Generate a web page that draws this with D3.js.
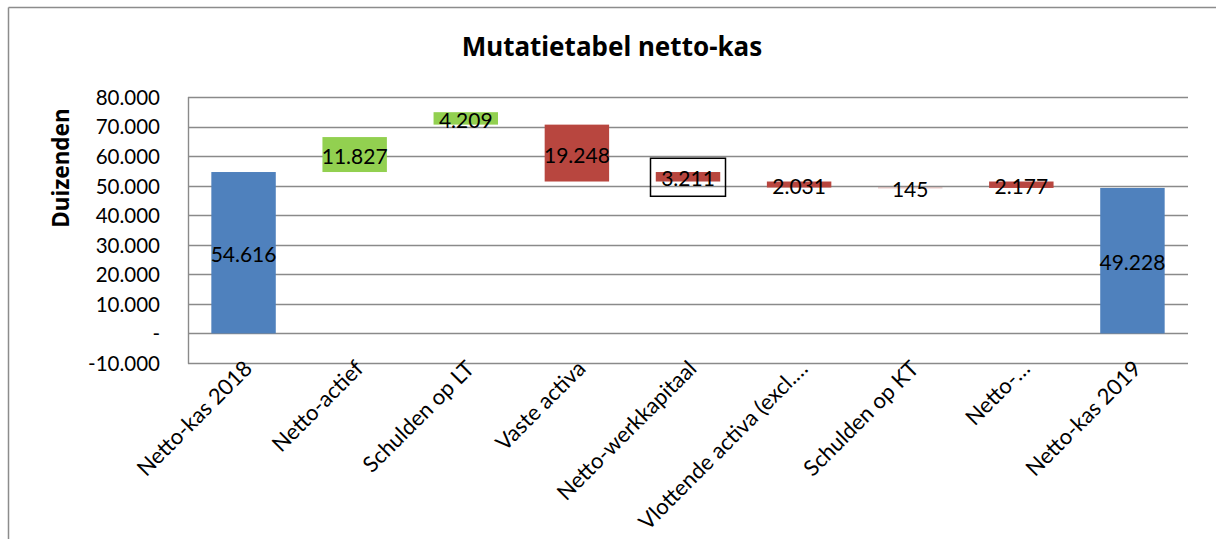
<!DOCTYPE html>
<html>
<head>
<meta charset="utf-8">
<script src="https://cdn.jsdelivr.net/npm/d3@7"></script>
<style>
  html, body { margin: 0; padding: 0; background: #fff; }
  svg { display: block; }
  text { font-family: Lato, "Noto Sans", sans-serif; fill: #000; }
</style>
</head>
<body>
<div id="chart"></div>
<script>
// ---- data ----
const categories = ["Netto-kas 2018", "Netto-actief", "Schulden op LT", "Vaste activa",
  "Netto-werkkapitaal", "Vlottende activa (excl.\u2026", "Schulden op KT", "Netto-\u2026", "Netto-kas 2019"];
const bases  = [0, 54616, 70652, 51404, 51404, 49373, 49228, 49228, 0];
const values = [54616, 11827, 4209, 19248, 3211, 2031, 145, 2177, 49228];
const kinds  = ["total", "up", "up", "down", "down", "down", "down", "down", "total"];
const boxedLabel = [false, false, false, false, true, false, false, false, false];
const yTicks = [-10000, 0, 10000, 20000, 30000, 40000, 50000, 60000, 70000, 80000];
const title = "Mutatietabel netto-kas";
const yTitle = "Duizenden";

// ---- layout ----
const W = 1216, H = 539;
const plot = { left: 188, right: 1188, top: 97, bottom: 363 };
const colors = { total: "#4F81BD", up: "#92D050", down: "#B8463F" };

const nl = d3.formatLocale({ decimal: ",", thousands: ".", grouping: [3], currency: ["", ""], minus: "-" });
const fmt = nl.format(",d");
const tickFmt = v => v === 0 ? "-" : fmt(v);

const svg = d3.select("#chart").append("svg").attr("width", W).attr("height", H);

// outer chart border (top + left visible)
svg.append("line").attr("x1", 8.5).attr("x2", W + 5).attr("y1", 7.5).attr("y2", 7.5)
  .attr("stroke", "#8c8c8c").attr("stroke-width", 1.5);
svg.append("line").attr("x1", 8.5).attr("x2", 8.5).attr("y1", 7.5).attr("y2", H + 5)
  .attr("stroke", "#8c8c8c").attr("stroke-width", 1.5);

const x = d3.scaleBand().domain(categories).range([plot.left, plot.right])
  .paddingInner(0.42).paddingOuter(0.21);
const y = d3.scaleLinear().domain([-10000, 80000]).range([plot.bottom, plot.top]);

// gridlines
svg.append("g").selectAll("line").data(yTicks).join("line")
  .attr("x1", plot.left).attr("x2", plot.right)
  .attr("y1", d => Math.round(y(d)) + 0.5).attr("y2", d => Math.round(y(d)) + 0.5)
  .attr("stroke", "#8a8a8a").attr("stroke-width", 1.4);

// y axis line
svg.append("line").attr("x1", plot.left + 0.5).attr("x2", plot.left + 0.5)
  .attr("y1", y(80000)).attr("y2", y(-10000) + 0.7)
  .attr("stroke", "#8a8a8a").attr("stroke-width", 1.4);

// y axis via d3 axis (labels only)
const yAxis = d3.axisLeft(y).tickValues(yTicks).tickFormat(tickFmt).tickSize(0).tickPadding(28);
const yg = svg.append("g").attr("transform", `translate(${plot.left},0)`).call(yAxis);
yg.select(".domain").remove();
yg.selectAll("text").style("font-family", "Lato, 'Noto Sans', sans-serif")
  .style("font-size", "20.5px").attr("dy", "0.36em").attr("fill", "#000");

// bars
const idx = d3.range(categories.length);
svg.append("g").selectAll("rect").data(idx).join("rect")
  .attr("x", i => x(categories[i]))
  .attr("width", x.bandwidth())
  .attr("y", i => y(bases[i] + values[i]))
  .attr("height", i => Math.max(0.8, y(bases[i]) - y(bases[i] + values[i])))
  .attr("fill", i => colors[kinds[i]])
  .attr("opacity", i => values[i] < 500 ? 0.45 : 1);

// data labels
const lg = svg.append("g");
idx.forEach(i => {
  const cx = x(categories[i]) + x.bandwidth() / 2;
  const cy = (y(bases[i]) + y(bases[i] + values[i])) / 2 + 1;
  if (boxedLabel[i]) {
    lg.append("rect").attr("x", cx - 37.5).attr("y", cy - 19.5).attr("width", 75).attr("height", 38)
      .attr("fill", "none").attr("stroke", "#000").attr("stroke-width", 1.5);
  }
  lg.append("text").attr("x", cx).attr("y", cy).attr("text-anchor", "middle")
    .attr("dominant-baseline", "central").style("font-size", "21px")
    .text(fmt(values[i]));
});

// x labels rotated
svg.append("g").selectAll("text").data(categories).join("text")
  .attr("transform", d => `translate(${x(d) + x.bandwidth() / 2 + 10},370) rotate(-45)`)
  .attr("text-anchor", "end")
  .style("font-size", "22px")
  .text(d => d);

// title
svg.append("text").attr("x", 612).attr("y", 56).attr("text-anchor", "middle")
  .style("font-family", "'Noto Sans', sans-serif")
  .style("font-size", "26px").style("font-weight", "bold").text(title);

// y title
svg.append("text").attr("transform", "translate(69,168) rotate(-90)")
  .attr("text-anchor", "middle")
  .style("font-family", "'Noto Sans', sans-serif")
  .style("font-size", "22.5px").style("font-weight", "bold")
  .text(yTitle);
</script>
</body>
</html>
